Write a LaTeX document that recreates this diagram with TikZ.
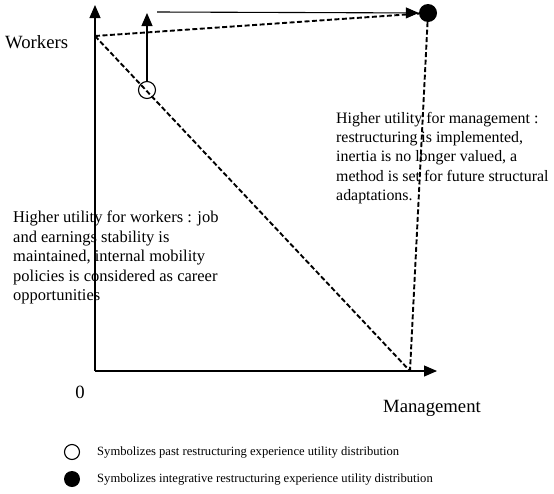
\documentclass[tikz,border=0pt]{standalone}
\usepackage{fontspec}
\setmainfont{Liberation Serif}
\usetikzlibrary{arrows.meta}
\tikzset{
  axisarrow/.style={-{Triangle[length=13pt,width=11pt]}, line width=1.1pt},
  utilline/.style={line width=1.9pt, dash pattern=on 5pt off 2.5pt},
  bodytext/.style={anchor=north west, inner sep=0pt, align=left, font=\fontsize{16.5}{19.5}\selectfont},
  legendtext/.style={anchor=west, inner sep=0pt, font=\fontsize{12.6}{15}\selectfont},
  axislabel/.style={inner sep=0pt, font=\fontsize{18.7}{22}\selectfont},
  pastdot/.style={circle, draw, line width=1.1pt, inner sep=0pt},
  integdot/.style={circle, fill, inner sep=0pt}
}
\begin{document}
\begin{tikzpicture}[x=1pt,y=-1pt]
        \useasboundingbox (0,0) rectangle (554,493);
        %% Axes
        \coordinate (O) at (95,371);
        \coordinate (ytip) at (95,5);
        \coordinate (xtip) at (437,371);
        \draw[axisarrow] (O) -- (ytip);
        \draw[axisarrow] (O) -- (xtip);
        \node[axislabel, anchor=west] (wlab) at (5,42) {Workers};
        \node[axislabel] (zero) at (80,392) {0};
        \node[axislabel] (mlab) at (432,408) {Management};
        %% Utility points
        \coordinate (W) at (95,36);
        \coordinate (M) at (410,371);
        \node[pastdot, minimum size=17pt] (past) at (147,90) {};
        \node[integdot, minimum size=18pt] (integ) at (428,13) {};
        \coordinate (pasttip) at (147,13);
        \coordinate (hstart) at (157,12);
        \draw[axisarrow] (past) -- (pasttip);
        \draw[axisarrow] (hstart) -- (integ);
        %% Texts
        \node[bodytext, font=\fontsize{15.9}{19.3}\selectfont] (mtext) at (336,112) {Higher utility for management :\\
          restructuring is implemented,\\
          inertia is no longer valued, a\\
          method is set for future structural\\
          adaptations.};
        \node[bodytext] (wtext) at (13,211) {Higher utility for workers : job\\
          and earnings stability is\\
          maintained, internal mobility\\
          policies is considered as career\\
          opportunities};
        %% Frontiers
        \draw[utilline] (W) -- (M);
        \draw[utilline] (W) -- (integ);
        \draw[utilline] (integ) -- (M);
        %% Legend
        \node[pastdot, minimum size=15pt] (lpast) at (72,452) {};
        \node[integdot, minimum size=16pt] (linteg) at (72,479) {};
        \node[legendtext] (lpasttext) at (97,452) {Symbolizes past restructuring experience utility distribution};
        \node[legendtext] (lintegtext) at (97,479) {Symbolizes integrative restructuring experience utility distribution};
\end{tikzpicture}
\end{document}
